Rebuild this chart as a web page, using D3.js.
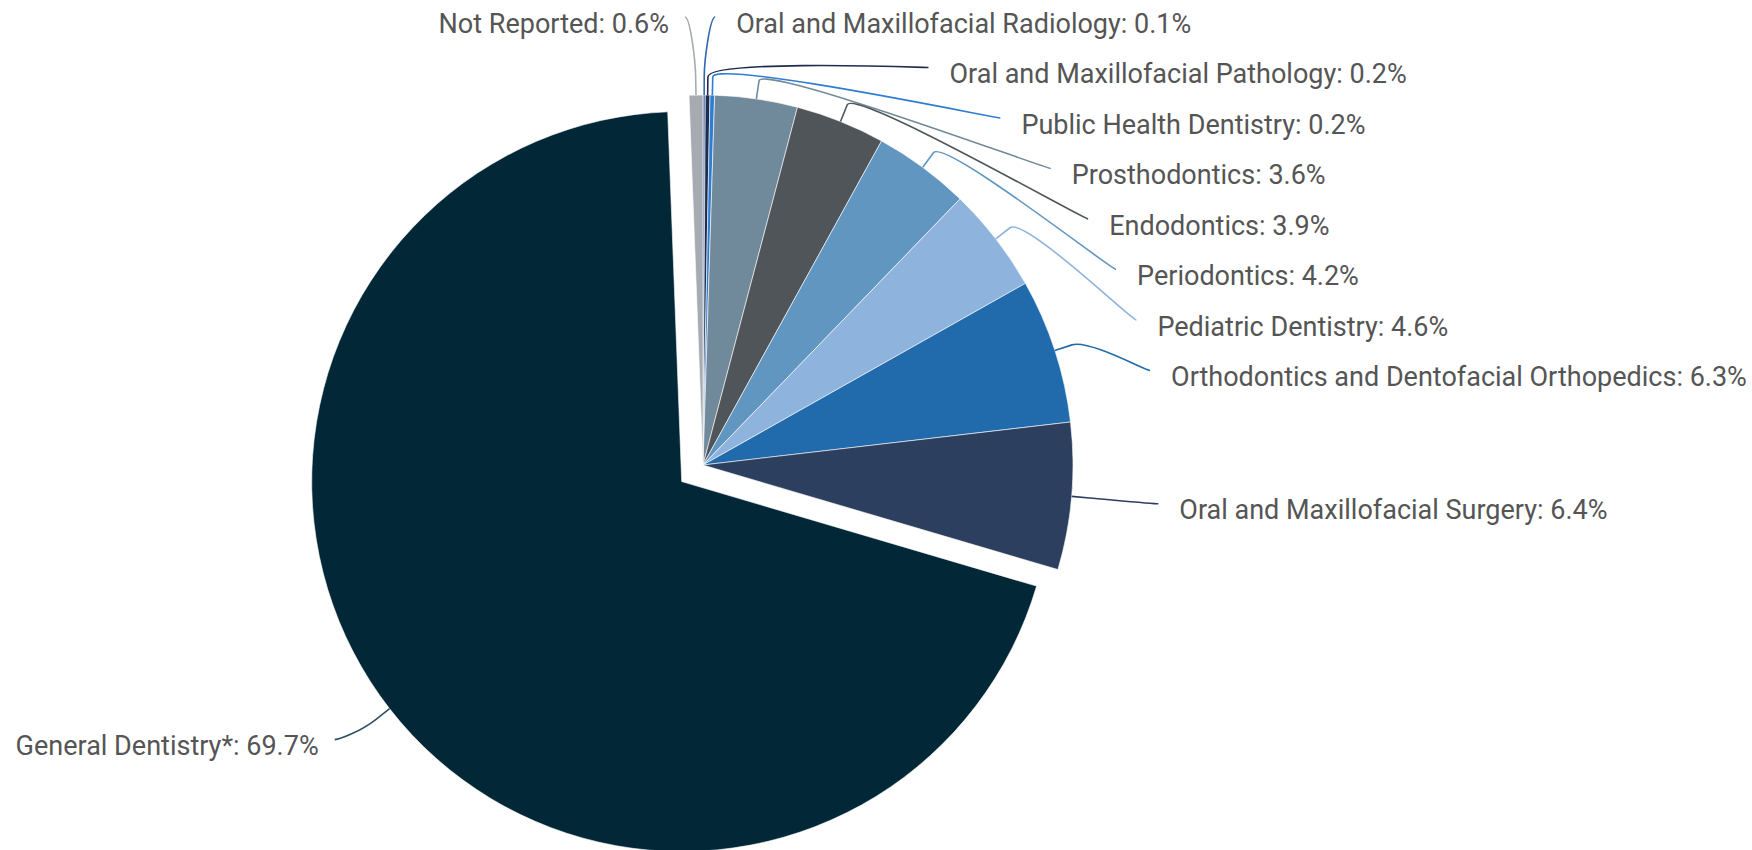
<!DOCTYPE html>
<html>
<head>
<meta charset="utf-8">
<script src="https://cdn.jsdelivr.net/npm/d3@7"></script>
<style>
  html, body { margin: 0; padding: 0; background: #fff; }
  svg { display: block; }
</style>
</head>
<body>
<div id="chart"></div>
<script>
// specialties, clockwise from 12 o'clock
const categories = [
  "Oral and Maxillofacial Radiology",
  "Oral and Maxillofacial Pathology",
  "Public Health Dentistry",
  "Prosthodontics",
  "Endodontics",
  "Periodontics",
  "Pediatric Dentistry",
  "Orthodontics and Dentofacial Orthopedics",
  "Oral and Maxillofacial Surgery",
  "General Dentistry*",
  "Not Reported"
];
const values = [0.1, 0.2, 0.2, 3.6, 3.9, 4.2, 4.6, 6.3, 6.4, 69.7, 0.6];
const colors = [
  "#3567b0", "#1f2d4d", "#2f7dd1", "#718a9b", "#50555a", "#6096c0",
  "#8eb3dc", "#216aab", "#2c3f5e", "#022838", "#a6abb2"
];
const slicedCategory = "General Dentistry*";

const width = 1752, height = 850;
const cx = 703, cy = 465, radius = 370;
const labelRadius = 457;
const explode = 27;
const breakOffset = 18;
const rowGap = 50.5, topY = 17;
const squeeze = 0.965; // narrower glyphs, like a condensed face

const svg = d3.select("#chart").append("svg")
  .attr("width", width)
  .attr("height", height)
  .style("font-family", "Roboto, sans-serif");

const pie = d3.pie().sort(null).value(d => d);
const arcs = pie(values);
const arc = d3.arc().innerRadius(0).outerRadius(radius);

const polar = (c, a, rr) => [c[0] + rr * Math.sin(a), c[1] - rr * Math.cos(a)];

const slices = arcs.map((a, i) => {
  const mid = (a.startAngle + a.endAngle) / 2;
  const center = categories[i] === slicedCategory ? polar([cx, cy], mid, explode) : [cx, cy];
  return {
    i, a, mid, center,
    side: mid < Math.PI ? 1 : -1,
    touch: polar(center, mid, radius),
    brk: polar(center, mid, radius + breakOffset),
    naturalY: cy - labelRadius * Math.cos(mid)
  };
});

// stack labels on each side
[1, -1].forEach(side => {
  const list = slices.filter(s => s.side === side).sort((p, q) => p.naturalY - q.naturalY);
  let prev = -Infinity;
  list.forEach((s, k) => {
    let y = Math.max(s.naturalY, prev + rowGap, topY);
    prev = y;
    let x;
    if (k === 0 && y === topY) {
      x = s.touch[0] + side * 11;
    } else {
      const dy = y - cy;
      const rr = side < 0 ? labelRadius + 6 : labelRadius;
      if (side < 0) y -= 6;
      x = cx + side * Math.sqrt(Math.max(0, rr * rr - dy * dy));
    }
    s.label = [x, y];
  });
});

// slices
const g = svg.append("g");
g.selectAll("path.slice")
  .data(slices)
  .enter()
  .append("path")
  .attr("class", "slice")
  .attr("transform", d => `translate(${d.center[0]},${d.center[1]})`)
  .attr("d", d => arc(d.a))
  .attr("fill", d => colors[d.i])
  .attr("stroke", "#fff")
  .attr("stroke-width", 0.6);

// connectors
svg.selectAll("path.connector")
  .data(slices)
  .enter()
  .append("path")
  .attr("class", "connector")
  .attr("fill", "none")
  .attr("stroke", d => d.i === 9 ? "#2e4f5e" : colors[d.i])
  .attr("stroke-width", 1.6)
  .attr("d", d => {
    const L = d.label, B = d.brk, T = d.touch;
    const p = d3.path();
    p.moveTo(L[0], L[1]);
    p.bezierCurveTo(L[0] - d.side * 5, L[1], 2 * B[0] - T[0], 2 * B[1] - T[1], B[0], B[1]);
    p.lineTo(T[0], T[1]);
    return p.toString();
  });

// labels
svg.selectAll("text.label")
  .data(slices)
  .enter()
  .append("text")
  .attr("class", "label")
  .attr("transform", d => {
    const x = d.label[0] + (d.side > 0 ? 21 : -16);
    return `translate(${x},${d.label[1] + 15.5}) scale(${squeeze},1)`;
  })
  .attr("text-anchor", d => d.side > 0 ? "start" : "end")
  .style("font-size", "28px")
  .attr("fill", "#555")
  .text(d => `${categories[d.i]}: ${values[d.i].toFixed(1)}%`);
</script>
</body>
</html>
